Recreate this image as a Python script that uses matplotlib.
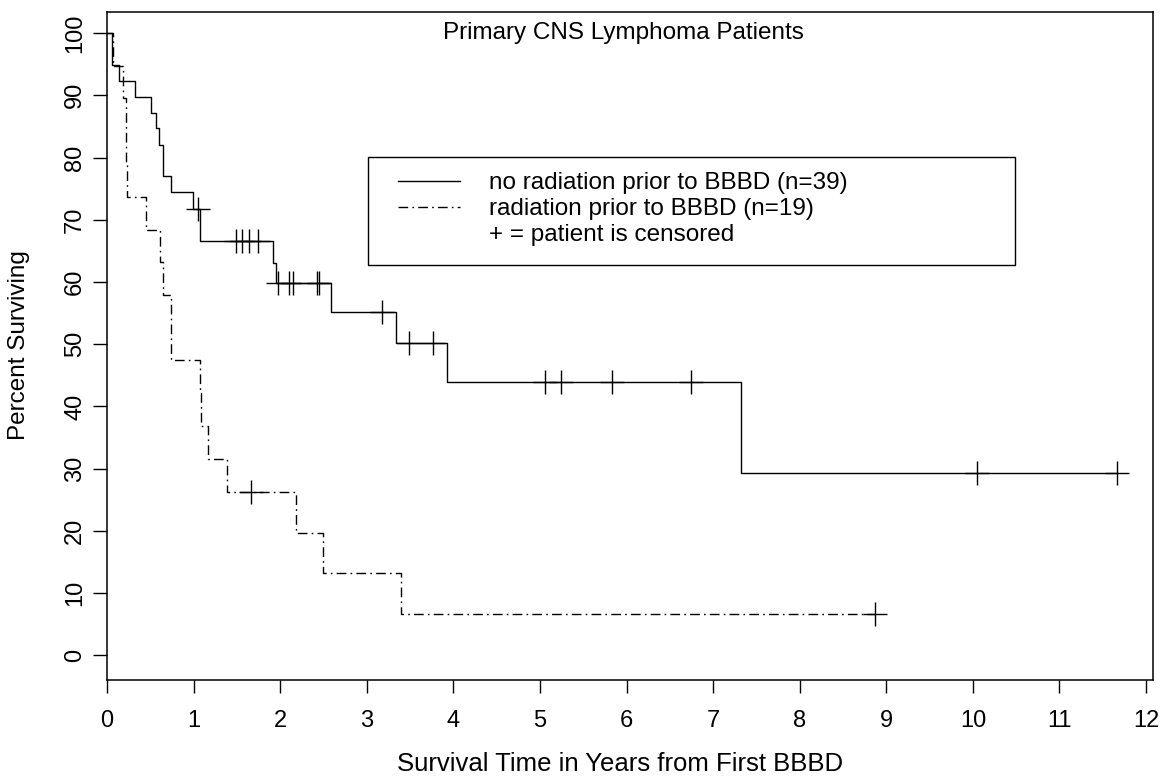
import numpy as np
import matplotlib
matplotlib.use("Agg")
import matplotlib.pyplot as plt
from matplotlib.patches import Rectangle
from matplotlib.lines import Line2D

# ---- data ----
# group 1: no radiation prior to BBBD (n=39)
norad_event_times = [0.06, 0.14, 0.32, 0.51, 0.57, 0.60, 0.65, 0.74, 0.99, 1.07,
                     1.92, 1.95, 2.59, 3.34, 3.93, 7.32]
norad_surv = [94.9, 92.3, 89.8, 87.2, 84.7, 82.0, 77.0, 74.4, 71.8, 66.6,
              63.1, 59.9, 55.2, 50.2, 43.9, 29.3]
norad_censor = [1.05, 1.49, 1.56, 1.64, 1.74, 1.97, 2.10, 2.15, 2.42, 2.45,
                3.18, 3.49, 3.76, 5.06, 5.24, 5.83, 6.74, 10.05, 11.66]
norad_end = 11.66

# group 2: radiation prior to BBBD (n=19)
rad_event_times = [0.07, 0.18, 0.22, 0.235, 0.45, 0.61, 0.65, 0.74, 1.07, 1.09,
                   1.17, 1.39, 2.18, 2.49, 3.39]
rad_surv = [94.7, 89.5, 78.9, 73.7, 68.4, 63.2, 57.9, 47.4, 42.1, 36.8,
            31.6, 26.3, 19.7, 13.2, 6.6]
rad_censor = [1.66, 8.87]
rad_end = 8.87

x_ticks = list(range(0, 13))
y_ticks = list(range(0, 101, 10))

title = "Primary CNS Lymphoma Patients"
xlabel = "Survival Time in Years from First BBBD"
ylabel = "Percent Surviving"
legend_labels = ["no radiation prior to BBBD (n=39)",
                 "radiation prior to BBBD (n=19)",
                 "+ = patient is censored"]

FONT = ["Liberation Sans", "DejaVu Sans"]
plt.rcParams["font.family"] = FONT

W, H, DPI = 1167, 777, 100
fig = plt.figure(figsize=(W / DPI, H / DPI), dpi=DPI)
ax = fig.add_axes([107 / W, 1 - 680 / H, (1153 - 107) / W, (680 - 12) / H])


def km_curve(times, surv, end):
    xs = np.concatenate([[0.0], times, [end]])
    ys = np.concatenate([[100.0], surv, [surv[-1]]])
    return xs, ys


def surv_at(times, surv, t):
    idx = np.searchsorted(np.asarray(times), np.asarray(t), side="right")
    levels = np.concatenate([[100.0], surv])
    return levels[idx]


dashdot = (0, (7, 3, 1.2, 3))

x1, y1 = km_curve(norad_event_times, norad_surv, norad_end)
ax.step(x1, y1, where="post", color="black", lw=1.0)
ax.plot(norad_censor, surv_at(norad_event_times, norad_surv, norad_censor),
        linestyle="none", marker="+", ms=17, mew=1.0, color="black")

x2, y2 = km_curve(rad_event_times, rad_surv, rad_end)
ax.step(x2, y2, where="post", color="black", lw=1.0, linestyle=dashdot)
ax.plot(rad_censor, surv_at(rad_event_times, rad_surv, rad_censor),
        linestyle="none", marker="+", ms=17, mew=1.0, color="black")

ax.set_xlim(0, 12.08)
ax.set_ylim(-3.97, 103.4)
ax.set_xticks(x_ticks)
ax.set_xticklabels([str(v) for v in x_ticks])
ax.set_yticks(y_ticks)
ax.set_yticklabels([str(v) for v in y_ticks], rotation=90, va="center")
ax.tick_params(axis="x", direction="out", length=9.5, width=1, pad=12, labelsize=17)
ax.tick_params(axis="y", direction="out", length=10, width=1, pad=5, labelsize=17)
for s in ax.spines.values():
    s.set_linewidth(1.1)
    s.set_color("black")

ax.set_xlabel(xlabel, fontsize=18.5, va="center")
ax.xaxis.set_label_coords((620 - 107) / 1046, (680 - 764) / 668)
ax.set_ylabel(ylabel, fontsize=17.5, va="center")
ax.yaxis.set_label_coords((19 - 107) / 1046, (680 - 345) / 668)

ax.text(0.494, 0.969, title, transform=ax.transAxes, ha="center", va="center",
        fontsize=17.5)

# legend box
ax.add_patch(Rectangle((0.2495, 0.621), 0.868 - 0.2495, 0.783 - 0.621,
                       transform=ax.transAxes, fill=False, lw=1.0,
                       edgecolor="black"))
ax.add_line(Line2D([0.278, 0.3375], [0.747, 0.747], transform=ax.transAxes,
                   color="black", lw=1.0))
ax.add_line(Line2D([0.278, 0.3375], [0.708, 0.708], transform=ax.transAxes,
                   color="black", lw=1.0, linestyle=dashdot))
for lab, yy in zip(legend_labels, [0.744, 0.705, 0.666]):
    ax.text(0.365, yy, lab, transform=ax.transAxes, ha="left", va="center",
            fontsize=17.5)

fig.savefig("out.png", dpi=DPI)
